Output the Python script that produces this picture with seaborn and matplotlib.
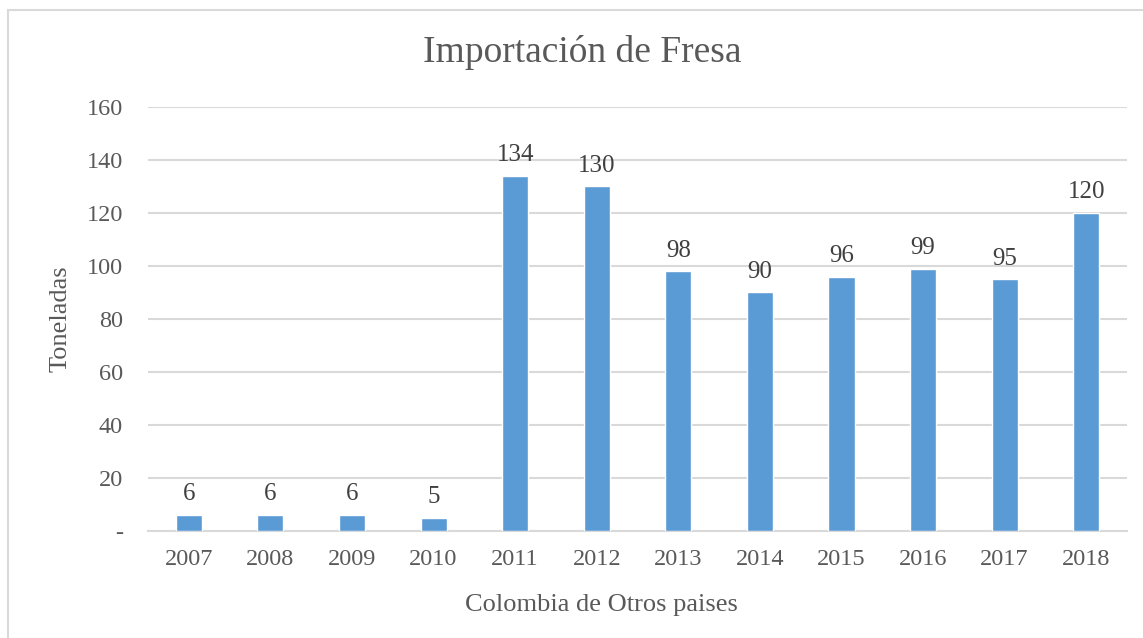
import numpy as np
import pandas as pd
import matplotlib.pyplot as plt
import seaborn as sns
from matplotlib.patches import Rectangle

# Datos
years = ['2007', '2008', '2009', '2010', '2011', '2012',
         '2013', '2014', '2015', '2016', '2017', '2018']
toneladas = [6, 6, 6, 5, 134, 130, 98, 90, 96, 99, 95, 120]
yticks = [0, 20, 40, 60, 80, 100, 120, 140, 160]
ytick_labels = ['-', '20', '40', '60', '80', '100', '120', '140', '160']

df = pd.DataFrame({'year': years, 'toneladas': toneladas})

sns.set_style('white')
plt.rcParams['font.family'] = ['Liberation Serif', 'DejaVu Serif']
gray = '#595959'

fig = plt.figure(figsize=(11.43, 6.38), dpi=100)
ax = fig.add_axes([0.1295, 0.1677, 0.8565, 0.6646])

sns.barplot(data=df, x='year', y='toneladas', color='#5B9BD5', width=0.32,
            saturation=1, ax=ax, zorder=3)

# etiquetas de datos
for i, v in enumerate(toneladas):
    ax.annotate(str(v), (i, v), xytext=(0, 7), textcoords='offset points',
                ha='center', va='bottom', fontsize=18, color='#404040')

ax.set_ylim(0, 160)
ax.set_xlim(-0.5, len(years) - 0.5)
ax.set_yticks(yticks)
ax.set_yticklabels(ytick_labels)
ax.yaxis.grid(True, color='#D9D9D9', linewidth=1.5, zorder=0)
ax.xaxis.grid(False)
for s in ['top', 'right', 'left']:
    ax.spines[s].set_visible(False)
ax.spines['bottom'].set_color('#D9D9D9')
ax.spines['bottom'].set_linewidth(1.5)
ax.tick_params(axis='both', length=0, labelsize=17.5, labelcolor=gray)
ax.tick_params(axis='y', pad=18)
ax.tick_params(axis='x', pad=13)

ax.set_xlabel('Colombia de Otros paises', fontsize=19, color=gray)
ax.set_ylabel('Toneladas', fontsize=19, color=gray)
ax.xaxis.set_label_coords(0.4635, -0.148)
ax.yaxis.set_label_coords(-0.078, 0.5)
fig.text(0.509, 0.917, 'Importación de Fresa', ha='center', va='center',
         fontsize=27, color=gray)

# borde del grafico
fig.patches.append(Rectangle((8 / 1143, -0.05), 1.1, 1 - 10 / 638 + 0.05,
                             transform=fig.transFigure, fill=False,
                             edgecolor='#D9D9D9', linewidth=1.5))

fig.savefig('out.png', dpi=100)
